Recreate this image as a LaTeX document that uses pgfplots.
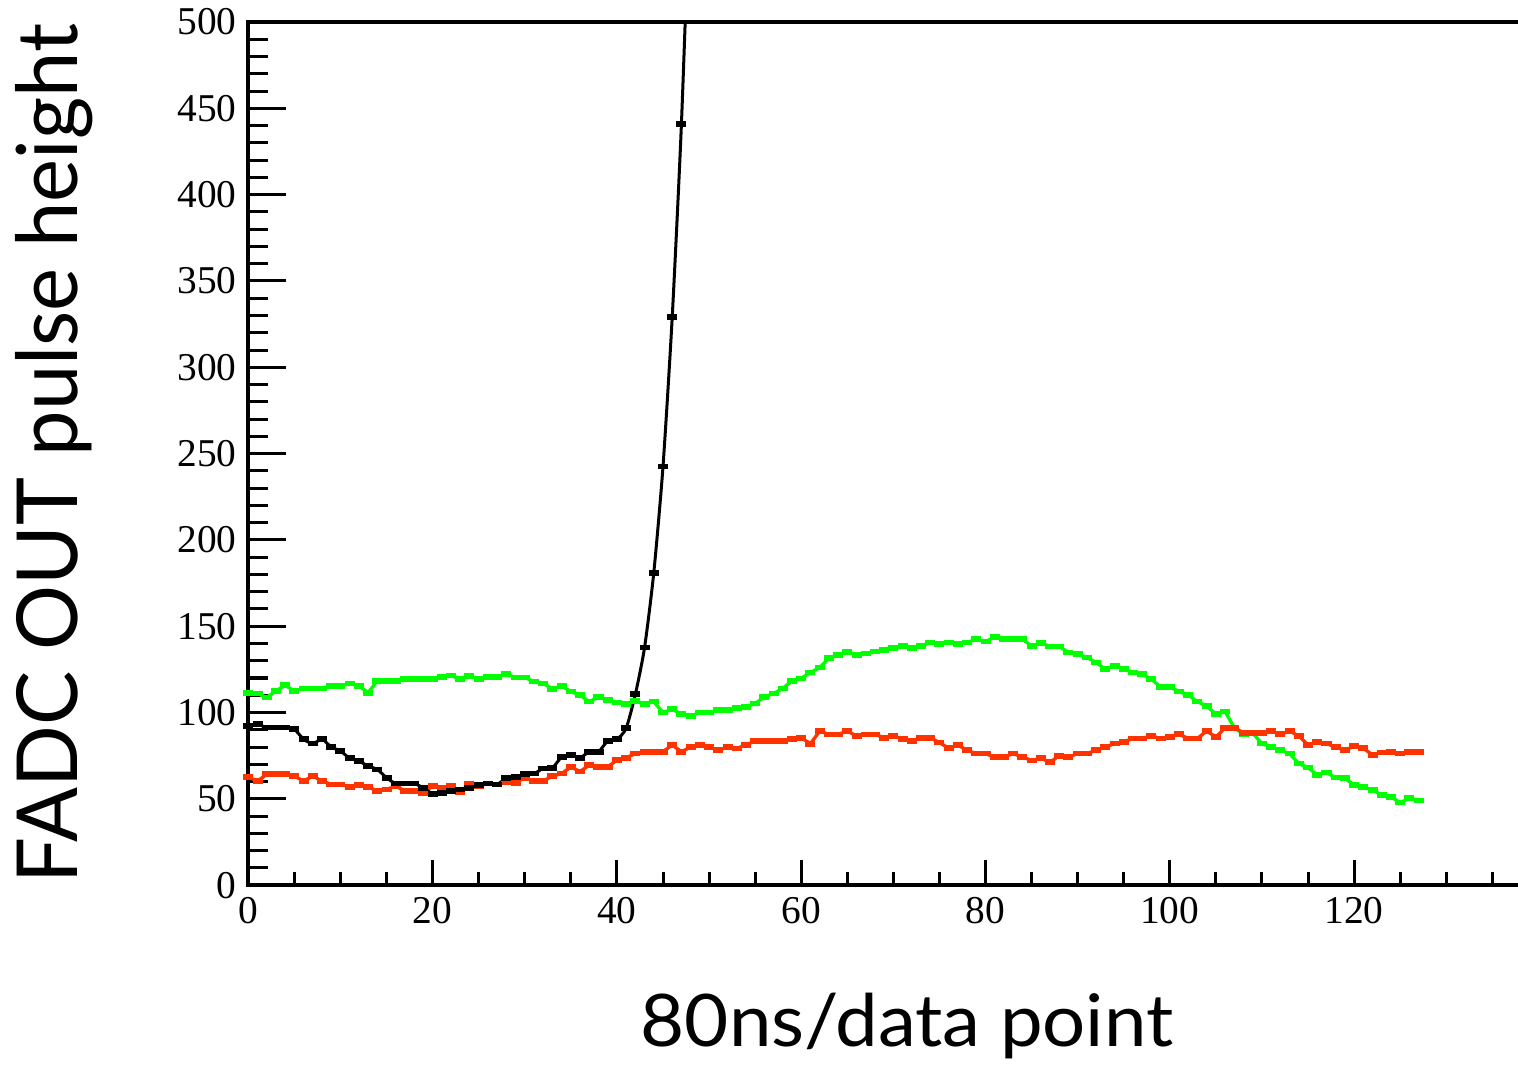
\documentclass[border=0pt]{standalone}
\usepackage{fontspec}
\setmainfont{Liberation Serif}
\setsansfont{Lato}
\usepackage{pgfplots}
\pgfplotsset{compat=1.18}
\usetikzlibrary{calc}
\definecolor{rootgreen}{RGB}{0,255,0}
\definecolor{rootred}{RGB}{255,51,0}
\begin{document}
\begin{tikzpicture}
\begin{axis}[
  name=main, scale only axis, width=381pt, height=258.6pt,
  xmin=0, xmax=138, ymin=0, ymax=500,
  axis line style={line width=1.1pt},
  xtick=\empty, ytick={0,50,...,500}, minor y tick num=4,
  ytick pos=left, tick align=inside,
  major tick length=11.4pt, minor tick length=6pt,
  every tick/.style={black, line width=0.9pt},
  /pgf/number format/assume math mode=true,
  yticklabel style={font=\fontsize{11.8}{13}\selectfont},
  xlabel={\resizebox{159.6pt}{16pt}{\sffamily 80ns/data point}},
  xlabel style={at={($(rel axis cs:0.518,0)+(0,-48.3pt)$)}, anchor=base},
  ylabel={\resizebox{257.4pt}{18.6pt}{\sffamily FADC OUT pulse height}},
  ylabel style={at={($(rel axis cs:0,0.5)+(-51.3pt,0)$)}, rotate=0, anchor=base},
]
\addplot[rootgreen, line width=1pt, mark=-, mark size=1.5pt, mark options={line width=1.7pt}] coordinates {
(0,111.5)(1,111)(2,108.7)(3,112.5)(4,115.8)(5,112.5)(6,114)(7,114)(8,114)(9,115.4)
(10,115.4)(11,116.8)(12,115.4)(13,111.5)(14,118.3)(15,118.3)(16,118.3)(17,119.3)(18,119.3)(19,119.3)
(20,119.3)(21,120.6)(22,121.4)(23,119.3)(24,121.2)(25,119.3)(26,120.6)(27,120.6)(28,122.2)(29,120.3)
(30,120.3)(31,117.9)(32,116.8)(33,113.8)(34,115.4)(35,112.1)(36,110.2)(37,106.3)(38,109)(39,107.1)
(40,105.8)(41,104.8)(42,106.7)(43,105)(44,106.3)(45,100)(46,101.9)(47,99)(48,98)(49,100)
(50,100)(51,101.3)(52,101.3)(53,102.5)(54,103.2)(55,105.2)(56,109)(57,111)(58,114)(59,118.3)
(60,119.8)(61,123.2)(62,126)(63,131.5)(64,133.4)(65,135)(66,133.4)(67,134.1)(68,135.3)(69,136.1)
(70,137.3)(71,138.6)(72,137.3)(73,138.6)(74,140.5)(75,139.6)(76,140.5)(77,139.6)(78,140.5)(79,142.5)
(80,141.1)(81,143.8)(82,142.5)(83,142.5)(84,142.5)(85,138.6)(86,140.3)(87,138.3)(88,138.3)(89,134.8)
(90,133.8)(91,131.9)(92,129)(93,125.1)(94,127.1)(95,125.1)(96,123.2)(97,122.2)(98,119.3)(99,114.8)
(100,114.8)(101,112.1)(102,110.2)(103,106.3)(104,103.8)(105,99)(106,100.5)(107,91.2)(108,87.4)(109,88)
(110,82)(111,80)(112,78.1)(113,76.2)(114,70.4)(115,68.1)(116,63.8)(117,65.2)(118,62.3)(119,61.9)
(120,58)(121,56.9)(122,55)(123,52.3)(124,51.1)(125,47.8)(126,50.3)(127,49.1)
};
\addplot[rootred, line width=1pt, mark=-, mark size=1.5pt, mark options={line width=1.7pt}] coordinates {
(0,62.6)(1,60.3)(2,64.2)(3,64.2)(4,64.2)(5,63.2)(6,60.3)(7,63.2)(8,60.3)(9,58.4)
(10,58.4)(11,56.9)(12,58)(13,57)(14,54.5)(15,55.5)(16,57.4)(17,54.5)(18,54.5)(19,53.5)
(20,57.4)(21,56.4)(22,57.4)(23,54.1)(24,58.8)(25,57.4)(26,58.8)(27,58.4)(28,59.9)(29,59.3)
(30,62.2)(31,60.3)(32,60.3)(33,63.2)(34,64.6)(35,68.5)(36,65.8)(37,69.6)(38,68.5)(39,68.5)
(40,72.4)(41,73.8)(42,76.2)(43,77.3)(44,77.3)(45,77.3)(46,81.2)(47,77.3)(48,80)(49,81.2)
(50,80)(51,78.1)(52,80)(53,79.2)(54,81.2)(55,83.5)(56,83.5)(57,83.5)(58,83.5)(59,84.5)
(60,85.4)(61,81.9)(62,89.3)(63,87.3)(64,87.3)(65,89.3)(66,86.4)(67,87.3)(68,87.3)(69,85.4)
(70,86.4)(71,84.5)(72,83.5)(73,85.4)(74,85.4)(75,82.6)(76,79.3)(77,81.2)(78,78.1)(79,76.2)
(80,76.2)(81,74.2)(82,74.2)(83,76.2)(84,74.2)(85,72.3)(86,73.5)(87,71.2)(88,75)(89,74.2)
(90,76.2)(91,76.2)(92,78.1)(93,80)(94,82)(95,83.1)(96,85)(97,85)(98,86.4)(99,85)
(100,85.8)(101,87.4)(102,85)(103,85)(104,89.3)(105,85.8)(106,91.2)(107,91.2)(108,88.3)(109,88.3)
(110,88.3)(111,89.3)(112,87.4)(113,89.3)(114,86.4)(115,81.2)(116,83.1)(117,82)(118,80)(119,78.1)
(120,80.6)(121,79.3)(122,75.4)(123,76.8)(124,77.3)(125,76.2)(126,77.3)(127,77.3)
};
\addplot[black, line width=0.9pt, smooth, tension=0.4, mark=-, mark size=1.5pt, mark options={line width=1.7pt}] coordinates {
(0,92.2)(1,93.2)(2,91.3)(3,91.3)(4,91.3)(5,90.3)(6,84.5)(7,82)(8,84.5)(9,80)
(10,77.7)(11,73.5)(12,71.9)(13,69)(14,67)(15,62.2)(16,58.8)(17,58.8)(18,58.8)(19,56.4)
(20,52.9)(21,53.5)(22,54.5)(23,55.5)(24,56.4)(25,58)(26,58.8)(27,58.4)(28,61.9)(29,62.6)
(30,64.2)(31,64.6)(32,67.6)(33,68)(34,74.2)(35,75.4)(36,73.8)(37,77.3)(38,77.3)(39,83.5)
(40,84.5)(41,90.9)(42,110.6)(43,137.7)(44,181)(45,242.5)(46,329)(47,441)(48,590)
};
\end{axis}
\begin{axis}[
  scale only axis, width=381pt, height=258.6pt,
  xmin=0, xmax=138, ymin=0, ymax=500,
  axis line style={draw=none},
  ytick=\empty, xtick={0,20,...,120}, minor xtick={0,5,...,135},
  xtick pos=left, tick align=inside,
  major tick length=7.5pt, minor tick length=3.9pt,
  every tick/.style={black, line width=0.9pt},
  /pgf/number format/assume math mode=true,
  xticklabel style={font=\fontsize{11.8}{13}\selectfont},
]
\end{axis}
\pgfresetboundingbox
\path[use as bounding box] ($(main.south west)+(-74.4pt,-57.3pt)$) rectangle ($(main.north east)+(-0.6pt,6.6pt)$);
\end{tikzpicture}
\end{document}
